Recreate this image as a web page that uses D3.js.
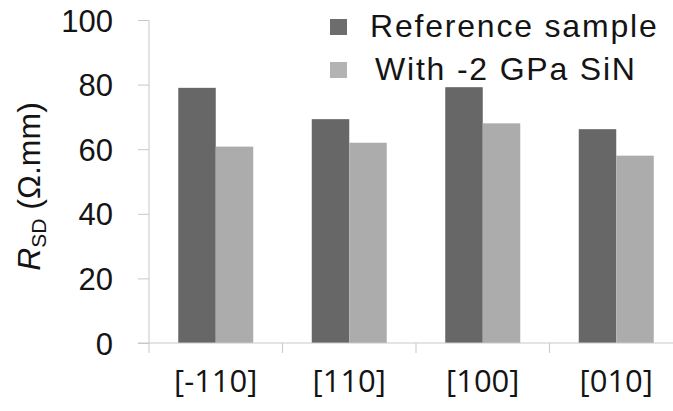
<!DOCTYPE html>
<html>
<head>
<meta charset="utf-8">
<script src="https://cdn.jsdelivr.net/npm/d3@7"></script>
<style>
  html, body { margin: 0; padding: 0; background: #fff; }
  svg { display: block; }
</style>
</head>
<body>
<svg id="chart" width="673" height="411"></svg>
<script>
// Source/drain resistance per crystal direction
const directions = ["[-110]", "[110]", "[100]", "[010]"];
const seriesNames = ["Reference sample", "With -2 GPa SiN"];
const referenceValues = [79, 69.3, 79.2, 66.2];
const strainedValues = [60.8, 62, 68, 58];
const yTicks = [0, 20, 40, 60, 80, 100];
const seriesColors = ["#676767", "#acacac"];

const svg = d3.select("#chart");
const plot = { left: 149, right: 683, top: 20, bottom: 343 };

const x0 = d3.scaleBand().domain(directions).range([plot.left, plot.right]).paddingInner(0).paddingOuter(0);
const x1 = d3.scaleBand().domain(seriesNames).range([0, x0.bandwidth()]).paddingInner(0).paddingOuter(0.78);
const y = d3.scaleLinear().domain([0, 100]).range([plot.bottom, plot.top]);

const rows = directions.map((d, i) => ({ dir: d, values: [referenceValues[i], strainedValues[i]] }));

// Bars
const groups = svg.append("g").selectAll("g").data(rows).join("g")
  .attr("transform", d => `translate(${x0(d.dir)},0)`);
groups.selectAll("rect").data(d => d.values.map((v, j) => ({ v, s: seriesNames[j], j })))
  .join("rect")
  .attr("x", d => x1(d.s))
  .attr("width", x1.bandwidth())
  .attr("y", d => y(d.v))
  .attr("height", d => y(0) - y(d.v))
  .attr("fill", d => seriesColors[d.j]);

// Y axis
const yAxis = svg.append("g").attr("transform", `translate(${plot.left},0)`)
  .call(d3.axisLeft(y).tickValues(yTicks).tickSize(11).tickSizeOuter(0).tickPadding(25));
yAxis.select(".domain").attr("stroke", "#c9c9c9").attr("d", `M0,${plot.top}V${plot.bottom + 10}`);
yAxis.selectAll(".tick line").attr("stroke", "#c9c9c9");
yAxis.selectAll(".tick text")
  .attr("font-family", "'Liberation Sans', Arial, sans-serif")
  .attr("font-size", 31).attr("fill", "#141414").attr("dy", "0.36em");

// X axis
const xAxis = svg.append("g").attr("transform", `translate(0,${plot.bottom})`)
  .call(d3.axisBottom(x0).tickSize(0).tickSizeOuter(0).tickPadding(43));
xAxis.select(".domain").attr("stroke", "#c9c9c9").attr("d", `M${plot.left - 11},0H${plot.right}`);
xAxis.selectAll(".tick text")
  .attr("font-family", "'Open Sans', sans-serif")
  .attr("font-size", 31).attr("fill", "#141414").attr("dy", "0.2em");
// Category separators
svg.append("g").selectAll("line").data(directions.slice(1)).join("line")
  .attr("x1", d => x0(d)).attr("x2", d => x0(d))
  .attr("y1", plot.bottom).attr("y2", plot.bottom + 10)
  .attr("stroke", "#c9c9c9");

// Y axis title
const title = svg.append("text")
  .attr("transform", `translate(40,${(plot.top + plot.bottom) / 2 + 5}) rotate(-90)`)
  .attr("text-anchor", "middle")
  .attr("font-family", "'Liberation Sans', Arial, sans-serif")
  .attr("font-size", 32).attr("fill", "#141414");
title.append("tspan").attr("font-style", "italic").text("R");
title.append("tspan").attr("font-size", 21).attr("dy", 6).text("SD");
title.append("tspan").attr("dy", -6).text(" (Ω.mm)");

// Legend
const legend = svg.append("g").selectAll("g").data(seriesNames).join("g")
  .attr("transform", (d, i) => `translate(330,${19 + i * 43})`);
legend.append("rect").attr("width", 17).attr("height", 16)
  .attr("fill", (d, i) => i === 0 ? "#6d6d6d" : "#b3b3b3");
legend.append("text")
  .attr("x", (d, i) => i === 0 ? 40 : 45).attr("y", 18)
  .attr("font-family", "'Liberation Sans', Arial, sans-serif")
  .attr("font-size", 32).attr("letter-spacing", 1.8).attr("fill", "#141414")
  .text(d => d);
</script>
</body>
</html>
